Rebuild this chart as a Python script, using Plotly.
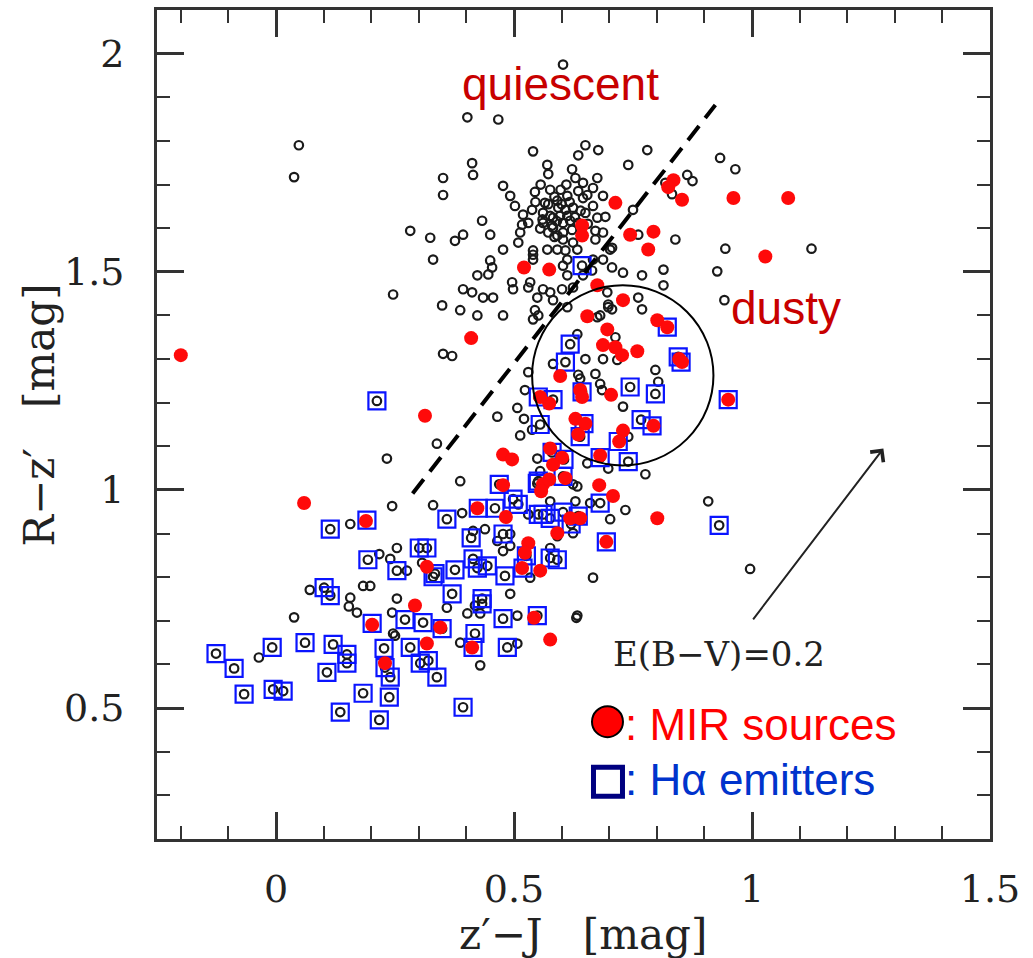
import plotly.graph_objects as go

# ---- colours of the full galaxy sample (open circles) ----
sample_zj = [
    0.048, 0.038, 0.603, 0.402, 0.467, 0.650, 0.635, 0.677, 0.540, 0.780,
    0.740, 0.412, 0.414, 0.351, 0.570, 0.572, 0.622, 0.629, 0.645, 0.675,
    0.351, 0.477, 0.492, 0.544, 0.502, 0.519, 0.538, 0.576, 0.591, 0.612,
    0.635, 0.654, 0.666, 0.687, 0.561, 0.576, 0.597, 0.612, 0.624, 0.666,
    0.675, 0.692, 0.561, 0.580, 0.603, 0.618, 0.572, 0.591, 0.603, 0.622,
    0.671, 0.671, 0.433, 0.450, 0.517, 0.513, 0.282, 0.324, 0.330, 0.376,
    0.393, 0.509, 0.477, 0.540, 0.570, 0.591, 0.603, 0.624, 0.702, 0.687,
    0.750, 0.761, 0.839, 0.450, 0.454, 0.446, 0.540, 0.603, 0.666, 0.687,
    0.706, 0.729, 0.769, 0.814, 0.814, 0.761, 0.393, 0.412, 0.435, 0.456,
    0.496, 0.498, 0.534, 0.561, 0.576, 0.549, 0.601, 0.624, 0.696, 0.698,
    0.246, 0.349, 0.387, 0.423, 0.477, 0.544, 0.540, 0.423, 0.933, 0.965,
    0.864, 0.875, 0.832, 0.944, 1.125, 0.927, 0.942, 0.818, 0.582, 0.608,
    0.645, 0.540, 0.608, 0.612, 0.633, 0.706, 0.530, 0.582, 0.612, 0.645,
    0.664, 0.681, 0.551, 0.612, 0.351, 0.370, 0.530, 0.523, 0.507, 0.521,
    0.465, 0.513, 0.338, 0.233, 0.549, 0.538, 0.582, 0.650, 0.687, 0.717,
    0.635, 0.671, 0.681, 0.685, 0.706, 0.769, 0.797, 0.803, 0.729, 0.740,
    0.698, 0.776, 0.654, 0.387, 0.244, 0.330, 0.391, 0.156, 0.734, 0.702,
    0.629, 0.555, 0.633, 0.414, 0.439, 0.492, 0.465, 0.492, 0.477, 0.254,
    0.217, 0.240, 0.183, 0.198, 0.156, 0.254, 0.244, 0.359, 0.402, 0.429,
    0.492, 0.666, 0.633, 0.507, 0.534, 0.576, 0.591, 0.624, 0.576, 0.530,
    0.660, 0.675, 0.698, 0.633, 0.713, 0.639, 0.624, 0.908, 0.996, 0.631,
    0.429, 0.507, 0.387, 0.246, 0.170, 0.418, 0.307, 0.275, 0.153, 0.071,
    0.038, -0.036, 0.250, 0.565, 0.593, 0.582, 0.555, 0.635, 0.650,
    0.556, 0.585, 0.600, 0.617, 0.560, 0.590, 0.628, 0.545, 0.610, 0.598,
    0.572, 0.640, 0.655, 0.530, 0.585,
]
sample_rz = [
    1.790, 1.717, 1.975, 1.854, 1.849, 1.790, 1.767, 1.779, 1.776, 1.779,
    1.745, 1.749, 1.722, 1.715, 1.745, 1.724, 1.735, 1.715, 1.704, 1.715,
    1.676, 1.697, 1.674, 1.683, 1.651, 1.631, 1.642, 1.688, 1.663, 1.674,
    1.685, 1.676, 1.692, 1.674, 1.635, 1.628, 1.628, 1.628, 1.647, 1.651,
    1.624, 1.626, 1.612, 1.606, 1.612, 1.617, 1.590, 1.583, 1.590, 1.596,
    1.594, 1.574, 1.617, 1.585, 1.608, 1.590, 1.594, 1.578, 1.528, 1.571,
    1.585, 1.567, 1.551, 1.549, 1.551, 1.551, 1.574, 1.567, 1.551, 1.590,
    1.642, 1.585, 1.574, 1.526, 1.510, 1.494, 1.528, 1.514, 1.528, 1.528,
    1.510, 1.498, 1.492, 1.505, 1.469, 1.441, 1.460, 1.453, 1.441, 1.441,
    1.476, 1.460, 1.476, 1.460, 1.453, 1.441, 1.460, 1.464, 1.453, 1.425,
    1.448, 1.423, 1.412, 1.400, 1.400, 1.412, 1.391, 1.492, 1.761, 1.735,
    1.722, 1.708, 1.678, 1.553, 1.553, 1.501, 1.435, 1.704, 1.624, 1.642,
    1.669, 1.539, 1.549, 1.528, 1.551, 1.555, 1.464, 1.435, 1.492, 1.492,
    1.503, 1.400, 1.400, 1.419, 1.312, 1.307, 1.270, 1.229, 1.188, 1.163,
    1.168, 1.125, 1.106, 1.072, 1.072, 1.138, 1.289, 1.300, 1.300, 1.298,
    1.264, 1.266, 1.243, 1.229, 1.414, 1.414, 1.275, 1.248, 1.191, 1.122,
    1.049, 1.036, 1.061, 1.020, 0.963, 0.965, 0.947, 0.922, 0.954, 0.933,
    0.974, 1.043, 1.008, 0.906, 0.910, 0.899, 0.883, 0.872, 0.860, 0.867,
    0.853, 0.842, 0.780, 0.780, 0.753, 0.751, 0.719, 0.730, 0.717, 0.717,
    0.762, 0.799, 0.712, 0.712, 0.799, 0.867, 0.894, 0.901, 0.974, 0.944,
    0.970, 1.396, 1.419, 1.357, 1.350, 1.255, 1.013, 0.974, 0.819, 0.707,
    0.598, 0.648, 0.650, 0.671, 0.719, 0.735, 0.833, 0.815, 0.733, 0.771,
    0.708, 0.616, 0.666, 1.658, 1.647, 1.601, 1.599, 1.612, 1.635,
    1.700, 1.672, 1.655, 1.660, 1.620, 1.616, 1.625, 1.660, 1.700, 1.688,
    1.655, 1.640, 1.610, 1.612, 1.580,
]

# ---- H-alpha emitters (also members of the sample) ----
ha_zj = [
    -0.126, -0.088, -0.067, -0.008, -0.006, 0.015, 0.061, 0.120, 0.107, 0.135,
    0.149, 0.149, 0.114, 0.101, 0.114, 0.193, 0.254, 0.301, 0.317, 0.330,
    0.202, 0.271, 0.309, 0.227, 0.229, 0.240, 0.238, 0.183, 0.217, 0.282,
    0.303, 0.320, 0.338, 0.212, 0.469, 0.425, 0.460, 0.498, 0.509, 0.549,
    0.551, 0.561, 0.576, 0.603, 0.635, 0.620, 0.681, 0.694, 0.359, 0.191,
    0.410, 0.477, 0.334, 0.376, 0.423, 0.444, 0.414, 0.481, 0.519, 0.526,
    0.576, 0.591, 0.370, 0.433, 0.549, 0.477, 0.349, 0.418, 0.414, 0.486,
    0.393, 0.433, 0.618, 0.608, 0.551, 0.582, 0.643, 0.744, 0.797, 0.555,
    0.647, 0.767, 0.790, 0.822, 0.845, 0.851, 0.950, 0.639, 0.719, 0.580,
    0.605, 0.681, 0.740, 0.551, 0.603, 0.931, 0.643,
]
ha_rz = [
    0.625, 0.591, 0.532, 0.639, 0.543, 0.539, 0.650, 0.646, 0.582, 0.491,
    0.623, 0.603, 0.910, 0.776, 0.758, 0.840, 0.815, 0.867, 0.867, 0.801,
    0.694, 0.703, 0.696, 0.637, 0.593, 0.571, 0.525, 0.534, 0.473, 0.639,
    0.603, 0.609, 0.571, 1.204, 1.013, 0.958, 0.958, 0.979, 0.967, 1.015,
    0.944, 0.944, 0.935, 0.949, 0.940, 0.922, 0.970, 0.881, 0.933, 0.931,
    0.890, 0.899, 0.808, 0.817, 0.821, 0.826, 0.842, 0.803, 0.821, 0.849,
    0.844, 0.840, 0.762, 0.751, 0.712, 0.705, 0.682, 0.671, 0.639, 0.639,
    0.502, 0.739, 1.334, 1.293, 1.213, 1.207, 1.225, 1.236, 1.220, 1.150,
    1.152, 1.161, 1.147, 1.373, 1.305, 1.293, 1.207, 1.122, 1.111, 1.086,
    1.070, 1.074, 1.065, 1.020, 1.031, 0.919, 1.514,
]

# ---- MIR (24um) sources ----
mir_zj = [
    -0.200, 0.059, 0.189, 0.317, 0.292, 0.202, 0.317, 0.229, 0.345, 0.412,
    0.542, 0.576, 0.410, 0.313, 0.477, 0.496, 0.477, 0.423, 0.483, 0.561,
    0.574, 0.557, 0.608, 0.591, 0.530, 0.523, 0.517, 0.555, 0.618, 0.639,
    0.679, 0.708, 0.801, 0.694, 0.576, 0.601, 0.582, 0.654, 0.696, 0.687,
    0.713, 0.727, 0.759, 0.801, 0.822, 0.597, 0.639, 0.643, 0.704, 0.574,
    0.555, 0.629, 0.650, 0.635, 0.729, 0.721, 0.793, 0.681, 0.847, 0.853,
    0.950, 0.713, 0.643, 0.643, 0.744, 0.793, 0.782, 0.521, 0.574, 0.675,
    0.729, 0.835, 0.824, 0.853, 0.961, 1.076, 1.028,
]
mir_rz = [
    1.309, 0.970, 0.929, 0.824, 0.735, 0.691, 0.648, 0.603, 0.685, 0.639,
    0.707, 0.657, 1.348, 1.170, 1.081, 1.070, 1.011, 0.958, 0.938, 1.013,
    1.024, 0.997, 1.027, 0.901, 0.878, 0.856, 0.821, 0.815, 0.935, 0.935,
    1.011, 0.986, 0.935, 0.881, 1.095, 1.074, 1.058, 1.398, 1.368, 1.332,
    1.327, 1.309, 1.318, 1.389, 1.373, 1.261, 1.229, 1.213, 1.218, 1.198,
    1.213, 1.163, 1.152, 1.127, 1.136, 1.111, 1.147, 1.079, 1.300, 1.293,
    1.207, 1.658, 1.606, 1.583, 1.585, 1.592, 1.551, 1.510, 1.505, 1.469,
    1.435, 1.710, 1.694, 1.665, 1.669, 1.669, 1.535,
]

# dividing line between quiescent and dusty red galaxies: R-z' = 1.4 (z'-J) + 0.59
div_zj = [0.287, 0.923]
div_slope, div_icpt = 1.4, 0.59
# reddening vector for E(B-V)=0.2
red_tail = (1.0, 0.70)
red_head = (1.276, 1.095)
# dusty-region circle (centre and radii, data units)
circ_c = (0.7285, 1.2625)
circ_r = (0.1905, 0.2065)

ink = "#222222"
serif = "DejaVu Serif"
sans = "Liberation Sans, Arial, sans-serif"

fig = go.Figure()

fig.add_trace(go.Scatter(
    x=sample_zj + ha_zj, y=sample_rz + ha_rz, mode="markers",
    marker=dict(symbol="circle-open", size=8.5, color="#1a1a1a",
                line=dict(width=2.2, color="#1a1a1a")),
    hoverinfo="skip", showlegend=False))
fig.add_trace(go.Scatter(
    x=ha_zj, y=ha_rz, mode="markers",
    marker=dict(symbol="square-open", size=17, color="#0a14ff",
                line=dict(width=2.2, color="#0a14ff")),
    hoverinfo="skip", showlegend=False))
fig.add_trace(go.Scatter(
    x=mir_zj, y=mir_rz, mode="markers",
    marker=dict(symbol="circle", size=14, color="#ff0a0a", line=dict(width=0)),
    hoverinfo="skip", showlegend=False))

# dividing line
fig.add_shape(type="line", xref="x", yref="y",
              x0=div_zj[0], y0=div_slope * div_zj[0] + div_icpt,
              x1=div_zj[1], y1=div_slope * div_zj[1] + div_icpt,
              line=dict(color="black", width=4, dash="18px,10px"))
# dusty circle
fig.add_shape(type="circle", xref="x", yref="y",
              x0=circ_c[0] - circ_r[0], x1=circ_c[0] + circ_r[0],
              y0=circ_c[1] - circ_r[1], y1=circ_c[1] + circ_r[1],
              line=dict(color="black", width=2))
# reddening arrow
fig.add_annotation(x=red_head[0], y=red_head[1], ax=red_tail[0], ay=red_tail[1],
                   xref="x", yref="y", axref="x", ayref="y", text="",
                   showarrow=True, arrowhead=4, arrowsize=1.6, arrowwidth=2,
                   arrowcolor=ink)

# legend symbols
fig.add_shape(type="circle", xref="paper", yref="paper",
              xsizemode="pixel", ysizemode="pixel", xanchor=0.5408, yanchor=0.1415,
              x0=-15.5, x1=15.5, y0=-15.5, y1=15.5,
              fillcolor="#ff0000", line=dict(color="black", width=2))
fig.add_shape(type="rect", xref="paper", yref="paper",
              xsizemode="pixel", ysizemode="pixel", xanchor=0.5414, yanchor=0.0691,
              x0=-14.5, x1=14.5, y0=-14.5, y1=14.5,
              line=dict(color="#000080", width=5))

def label(text, x, y, size, color, family, xanchor="center", angle=0):
    fig.add_annotation(x=x, y=y, xref="paper", yref="paper", text=text,
                       showarrow=False, xanchor=xanchor, yanchor="middle",
                       textangle=angle,
                       font=dict(size=size, color=color, family=family))

label("quiescent", 0.4838, 0.911, 46, "#c80000", sans)
label("dusty", 0.7557, 0.640, 46, "#c80000", sans)
label("E(B\u2212V)=0.2", 0.6747, 0.2236, 34, ink, serif)
label(": MIR sources", 0.5600, 0.1376, 44, "#ff0000", sans, xanchor="left")
label(": H\u03b1 emitters", 0.5600, 0.0715, 44, "#0033cc", sans, xanchor="left")
label("z\u2032\u2212J   [mag]", 0.5114, -0.1154, 42, ink, serif)
label("R\u2212z\u2032   [mag]", -0.1405, 0.5120, 42, ink, serif, angle=-90)

axis_common = dict(
    showgrid=False, zeroline=False, showline=True, linewidth=3, linecolor="#333333",
    mirror="allticks", ticks="inside", ticklen=27, tickwidth=2.5, tickcolor="#333333",
    tick0=0, dtick=0.5,
    minor=dict(tick0=0, dtick=0.1, ticks="inside", ticklen=13, tickwidth=2,
               tickcolor="#333333", showgrid=False),
    tickfont=dict(family=serif, size=38, color=ink),
)
fig.update_xaxes(range=[-0.25, 1.5], ticklabelstandoff=14, **axis_common)
fig.update_yaxes(range=[0.2, 2.1], ticklabelstandoff=22, **axis_common)

fig.update_layout(
    width=1033, height=958,
    margin=dict(l=157, r=43, t=7, b=119),
    paper_bgcolor="white", plot_bgcolor="white",
    showlegend=False,
)

fig.write_html("out.html")
